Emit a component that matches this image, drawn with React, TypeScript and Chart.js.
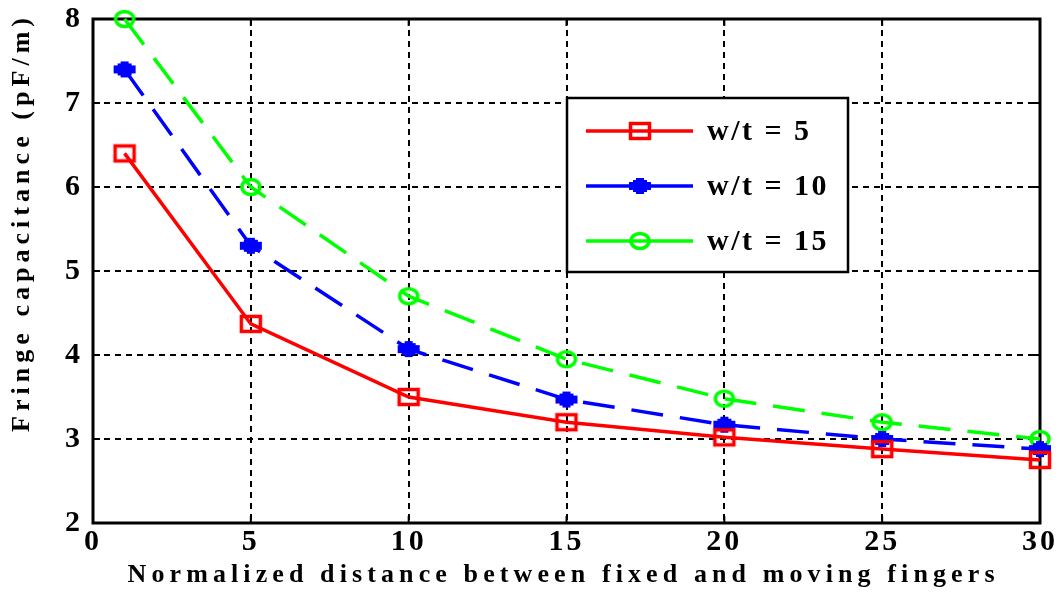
import { useEffect, useRef } from 'react';
import { Chart, registerables } from 'chart.js';
Chart.register(...registerables);

const FONT = '"Liberation Serif", "Times New Roman", serif';

const xValues = [1, 5, 10, 15, 20, 25, 30];
const wt5 = [6.4, 4.37, 3.5, 3.2, 3.02, 2.88, 2.75];
const wt10 = [7.4, 5.3, 4.07, 3.47, 3.17, 3.0, 2.88];
const wt15 = [8.0, 6.0, 4.7, 3.95, 3.48, 3.2, 3.0];
const seriesLabels = ['w/t = 5', 'w/t = 10', 'w/t = 15'];
const seriesColors = ['#ff0000', '#0000ff', '#00ff00'];
const xTicks = [0, 5, 10, 15, 20, 25, 30];
const yTicks = [2, 3, 4, 5, 6, 7, 8];
const xTitle = 'Normalized distance between fixed and moving fingers';
const yTitle = 'Fringe capacitance (pF/m)';

function makeMarker(kind: string, color: string): HTMLCanvasElement {
  const c = document.createElement('canvas');
  c.width = 26;
  c.height = 22;
  const ctx = c.getContext('2d')!;
  ctx.strokeStyle = color;
  ctx.fillStyle = color;
  ctx.lineWidth = 3.5;
  if (kind === 'rect') {
    ctx.strokeRect(3.5, 3.5, 19, 15);
  } else if (kind === 'circle') {
    ctx.beginPath();
    ctx.ellipse(13, 11, 9, 7.5, 0, 0, Math.PI * 2);
    ctx.stroke();
  } else {
    ctx.fillRect(2, 7, 22, 8);
    ctx.fillRect(9, 3, 8, 16);
    ctx.fillRect(6, 5, 14, 12);
  }
  return c;
}

function spacedText(ctx: CanvasRenderingContext2D, text: string, cx: number, cy: number, target: number) {
  (ctx as any).letterSpacing = '0px';
  const w = ctx.measureText(text).width;
  const sp = (target - w) / (text.length - 1);
  (ctx as any).letterSpacing = sp + 'px';
  ctx.textAlign = 'left';
  ctx.textBaseline = 'middle';
  ctx.fillText(text, cx - target / 2, cy);
  (ctx as any).letterSpacing = '0px';
}

export default function App() {
  const ref = useRef<HTMLCanvasElement>(null);
  useEffect(() => {
    const markers = [makeMarker('rect', seriesColors[0]), makeMarker('star', seriesColors[1]), makeMarker('circle', seriesColors[2])];
    const seriesList = [wt5, wt10, wt15];

    const decorPlugin = {
      id: 'decor',
      beforeDraw(chart: any) {
        chart.ctx.letterSpacing = '3px';
      },
      beforeDatasetsDraw(chart: any) {
        const { ctx, chartArea: a, scales } = chart;
        ctx.save();
        ctx.strokeStyle = '#000';
        ctx.lineWidth = 2;
        ctx.setLineDash([]);
        const tl = 7;
        ctx.beginPath();
        xTicks.forEach((v) => {
          const px = scales.x.getPixelForValue(v);
          ctx.moveTo(px, a.bottom); ctx.lineTo(px, a.bottom - tl);
          ctx.moveTo(px, a.top); ctx.lineTo(px, a.top + tl);
        });
        yTicks.forEach((v) => {
          const py = scales.y.getPixelForValue(v);
          ctx.moveTo(a.left, py); ctx.lineTo(a.left + tl, py);
          ctx.moveTo(a.right, py); ctx.lineTo(a.right - tl, py);
        });
        ctx.stroke();
        ctx.lineWidth = 3;
        ctx.strokeRect(a.left, a.top, a.right - a.left, a.bottom - a.top);
        ctx.restore();
      },
      afterDatasetsDraw(chart: any) {
        const { ctx } = chart;
        ctx.save();
        // legend
        const bx = 567, by = 98, bw = 281, bh = 174;
        ctx.fillStyle = '#fff';
        ctx.fillRect(bx, by, bw, bh);
        ctx.strokeStyle = '#000';
        ctx.lineWidth = 2.5;
        ctx.setLineDash([]);
        ctx.strokeRect(bx, by, bw, bh);
        const rows = [131, 186, 241];
        rows.forEach((ry, i) => {
          ctx.strokeStyle = seriesColors[i];
          ctx.lineWidth = 3.5;
          ctx.beginPath();
          ctx.moveTo(586, ry); ctx.lineTo(693, ry);
          ctx.stroke();
          const m = markers[i];
          ctx.drawImage(m, 640 - m.width / 2, ry - m.height / 2);
          ctx.fillStyle = '#000';
          ctx.font = `bold 30px ${FONT}`;
          ctx.letterSpacing = '2.5px';
          ctx.textAlign = 'left';
          ctx.textBaseline = 'middle';
          ctx.fillText(seriesLabels[i], 707, ry + 1);
        });
        // axis titles
        ctx.fillStyle = '#000';
        ctx.font = `bold 26px ${FONT}`;
        spacedText(ctx, xTitle, 561, 575, 867);
        ctx.save();
        ctx.translate(22, 225);
        ctx.rotate(-Math.PI / 2);
        spacedText(ctx, yTitle, 0, 0, 414);
        ctx.restore();
        ctx.restore();
      },
      afterDraw(chart: any) {
        chart.ctx.letterSpacing = '0px';
      },
    };

    const tickFont = { family: FONT, size: 30, weight: 'bold' as const };

    const chart = new Chart(ref.current!, {
      type: 'line',
      data: {
        datasets: seriesList.map((vals, i) => ({
          label: seriesLabels[i],
          data: xValues.map((x, j) => ({ x, y: vals[j] })),
          borderColor: seriesColors[i],
          backgroundColor: seriesColors[i],
          borderWidth: 3.5,
          borderDash: i === 0 ? [] : [32, 17],
          pointStyle: markers[i] as any,
          pointRadius: 10,
          tension: 0,
          clip: false as any,
        })),
      },
      options: {
        animation: false,
        responsive: false,
        layout: { padding: { left: 0, top: 19, right: 19, bottom: 0 } },
        plugins: { legend: { display: false }, tooltip: { enabled: false } },
        scales: {
          x: {
            type: 'linear',
            min: 0,
            max: 30,
            afterBuildTicks: (s: any) => { s.ticks = xTicks.map((v) => ({ value: v })); },
            ticks: { color: '#000', font: tickFont, padding: 1, maxRotation: 0, autoSkip: false },
            grid: { color: '#000', lineWidth: 2, drawTicks: false },
            border: { display: false, dash: [6, 5] },
            afterFit: (s: any) => { s.height = 69; s.paddingLeft = 0; s.paddingRight = 0; },
          },
          y: {
            type: 'linear',
            min: 2,
            max: 8,
            afterBuildTicks: (s: any) => { s.ticks = yTicks.map((v) => ({ value: v })); },
            ticks: { color: '#000', font: tickFont, padding: 10, autoSkip: false },
            grid: { color: '#000', lineWidth: 2, drawTicks: false },
            border: { display: false, dash: [6, 5] },
            afterFit: (s: any) => { s.width = 93; s.paddingTop = 0; s.paddingBottom = 0; },
          },
        },
      },
      plugins: [decorPlugin],
    });
    return () => chart.destroy();
  }, []);
  return (
    <div style={{ position: 'fixed', left: 0, top: 0, width: 1059, height: 592, background: '#fff' }}>
      <canvas ref={ref} width={1059} height={592} style={{ display: 'block' }} />
    </div>
  );
}
